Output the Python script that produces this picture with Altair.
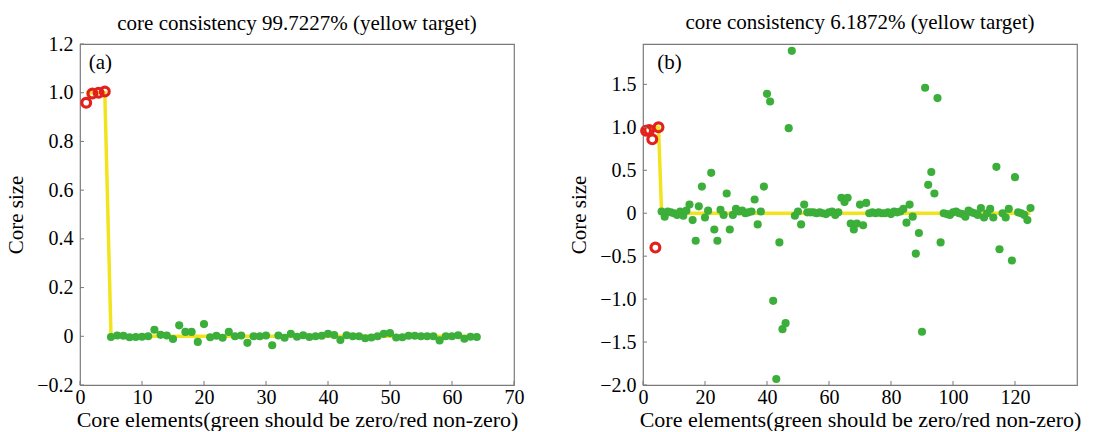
import altair as alt
import pandas as pd

# ---------------- data: panel (a) ----------------
red_a_x = [1, 2, 3, 4]
red_a_y = [0.959, 0.997, 1.000, 1.005]
green_a_x = list(range(5, 65))
green_a_y = [-0.003, 0.003, 0.002, -0.004, -0.003, -0.002, 0.000, 0.027, 0.006, 0.003,
             -0.011, 0.045, 0.018, 0.018, -0.023, 0.050, -0.004, 0.002, -0.006, 0.018,
             0.000, 0.003, -0.027, 0.000, 0.000, 0.003, -0.037, 0.003, -0.006, 0.010,
             -0.002, 0.004, -0.003, 0.000, 0.002, 0.010, 0.005, -0.015, 0.004, 0.000,
             0.000, -0.008, -0.005, 0.000, 0.010, 0.013, -0.005, -0.004, 0.002, 0.002,
             0.000, 0.000, 0.000, -0.017, 0.000, 0.000, 0.004, -0.010, -0.002, -0.003]
target_a_x = [1, 4, 5, 64]
target_a_y = [1, 1, 0, 0]

# ---------------- data: panel (b) ----------------
red_b_x = [1, 2, 3, 4, 5]
red_b_y = [0.96, 0.97, 0.86, -0.40, 1.00]
green_b_x = list(range(6, 126))
green_b_y = [0.02, -0.04, 0.02, 0.01, 0.00, -0.02, 0.02, -0.03, 0.03, 0.10,
             -0.08, -0.32, 0.08, 0.31, -0.05, 0.03, 0.47, -0.19, -0.32, 0.04,
             -0.02, 0.23, -0.19, -0.02, 0.05, 0.02, 0.03, 0.00, 0.01, 0.02,
             0.16, -0.13, 0.02, 0.31, 1.39, 1.30, -1.02, -1.93, -0.34, -1.35,
             -1.28, 0.99, 1.89, -0.03, 0.02, -0.13, 0.10, 0.01, 0.01, 0.01,
             0.00, 0.01, 0.00, -0.01, 0.01, 0.02, -0.02, 0.01, 0.18, 0.13,
             0.18, -0.12, -0.19, -0.12, 0.10, -0.14, 0.12, 0.00, 0.01, 0.00,
             0.01, 0.00, 0.00, 0.01, -0.01, 0.02, 0.01, 0.02, 0.05, -0.11,
             0.10, -0.04, -0.47, -0.23, -1.38, 1.46, 0.33, 0.48, 0.23, 1.34,
             -0.34, 0.00, -0.01, -0.02, 0.01, 0.02, 0.00, -0.01, -0.04, 0.03,
             0.01, 0.00, -0.02, 0.06, -0.05, 0.00, 0.05, -0.05, 0.54, -0.42,
             0.00, -0.05, 0.05, -0.55, 0.42, 0.01, 0.00, -0.02, -0.08, 0.06]
target_b_x = [1, 5, 6, 125]
target_b_y = [1, 1, 0, 0]

xticks_a = [0, 10, 20, 30, 40, 50, 60, 70]
yticks_a = [-0.2, 0, 0.2, 0.4, 0.6, 0.8, 1.0, 1.2]
xticks_b = [0, 20, 40, 60, 80, 100, 120]
yticks_b = [-2.0, -1.5, -1.0, -0.5, 0, 0.5, 1.0, 1.5]

title_a = "core consistency 99.7227% (yellow target)"
title_b = "core consistency 6.1872% (yellow target)"
xlabel = "Core elements(green should be zero/red non-zero)"
ylabel = "Core size"

FONT = "Liberation Serif"
W, H = 434, 341
GRAY = "#7a7a7a"
YELLOW = "#f2e41c"
GREEN = "#3cae3a"
RED = "#e3211c"


def panel(rx, ry, gx, gy, tx, ty, xt, yt, xdom, ydom, title, tag, tagx, tagy, tdy):
    xs = alt.Scale(domain=xdom, nice=False, zero=False)
    ys = alt.Scale(domain=ydom, nice=False, zero=False)
    lab = "datum.value == 0 ? '0' : format(datum.value, '.1f')"
    xaxis = alt.Axis(values=xt, title=xlabel, ticks=False, domain=False, grid=False,
                     labelPadding=2, titlePadding=2, labelFlush=False,
                     labelFont=FONT, titleFont=FONT, labelFontSize=20, titleFontSize=22,
                     labelColor="black", titleColor="black", titleFontWeight="normal")
    yaxis = alt.Axis(values=yt, title=ylabel, ticks=False, domain=False, grid=False,
                     labelExpr=lab, labelPadding=7, titlePadding=10,
                     labelFont=FONT, titleFont=FONT, labelFontSize=20, titleFontSize=21,
                     labelColor="black", titleColor="black", titleFontWeight="normal")

    tgt = alt.Chart(pd.DataFrame({"x": tx, "y": ty})).mark_line(
        color=YELLOW, strokeWidth=3.5).encode(
        x=alt.X("x:Q", scale=xs, axis=xaxis), y=alt.Y("y:Q", scale=ys, axis=yaxis))
    grn = alt.Chart(pd.DataFrame({"x": gx, "y": gy})).mark_point(
        shape="circle", filled=True, color=GREEN, size=66, opacity=1).encode(
        x="x:Q", y="y:Q")
    red = alt.Chart(pd.DataFrame({"x": rx, "y": ry})).mark_point(
        shape="circle", filled=False, color=RED, size=78, strokeWidth=3.2, opacity=1).encode(
        x="x:Q", y="y:Q")
    ytk = alt.Chart(pd.DataFrame({"v": yt})).mark_rule(color=GRAY, strokeWidth=1).encode(
        y="v:Q", x=alt.value(0), x2=alt.value(4))
    xtk = alt.Chart(pd.DataFrame({"v": xt})).mark_rule(color=GRAY, strokeWidth=1).encode(
        x="v:Q", y=alt.value(H), y2=alt.value(H - 4))
    txt = alt.Chart(pd.DataFrame({"x": [tagx], "y": [tagy], "t": [tag]})).mark_text(
        font=FONT, fontSize=21, align="left", baseline="middle", color="black").encode(
        x="x:Q", y="y:Q", text="t:N")
    return alt.layer(tgt, grn, red, ytk, xtk, txt).properties(
        width=W, height=H,
        title=alt.TitleParams(title, font=FONT, fontSize=21, fontWeight="normal",
                              color="black", frame="group", offset=0, dy=tdy))


left = panel(red_a_x, red_a_y, green_a_x, green_a_y, target_a_x, target_a_y,
             xticks_a, yticks_a, [0, 70], [-0.2, 1.2], title_a, "(a)", 1.4, 1.12, 0)
right = panel(red_b_x, red_b_y, green_b_x, green_b_y, target_b_x, target_b_y,
              xticks_b, yticks_b, [0, 140], [-2.0, 1.97], title_b, "(b)", 4.6, 1.745, -11)

chart = alt.hconcat(left, right, spacing=129, bounds="flush").properties(
    padding={"left": 5, "top": 11, "right": 0, "bottom": 0},
    background="white"
).configure_view(stroke=GRAY, strokeWidth=1.2)

chart.save("out.html", embed_options={"renderer": "svg", "actions": False})
